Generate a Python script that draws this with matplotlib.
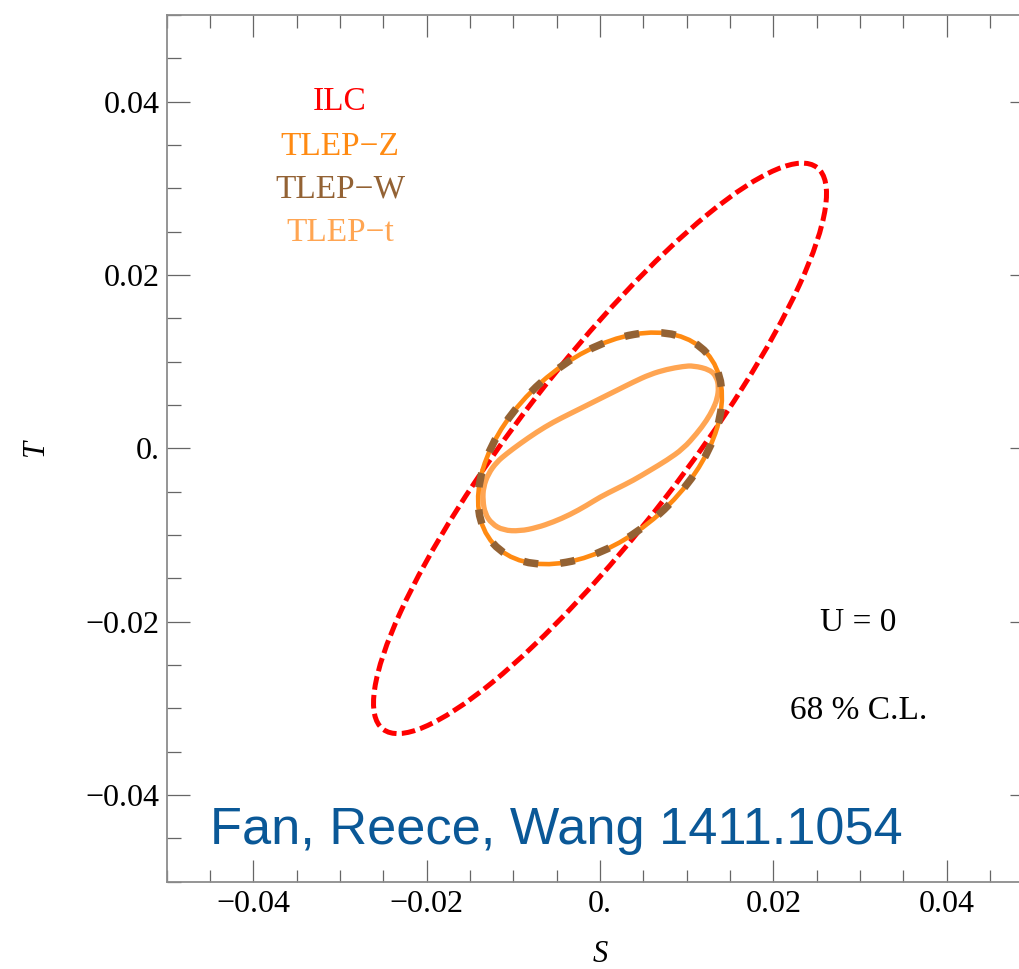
#!/usr/bin/env python
# S-T ellipses, ILC vs TLEP
import matplotlib
matplotlib.use("Agg")
import matplotlib.pyplot as plt
import matplotlib.patches as patches
from matplotlib.path import Path
from matplotlib.ticker import MultipleLocator, FixedLocator, FixedFormatter
import numpy as np

plt.rcParams['font.family'] = ['Liberation Serif', 'DejaVu Serif']
plt.rcParams['lines.scale_dashes'] = False

# ellipse contours (centre S, centre T, full width, full height, angle deg)
ilc_ell = [0.0, 0.0, 0.0819, 0.0189, 52.3]
tlepz_ell = [0.0, 0.0, 0.0330, 0.0204, 41.7]

# TLEP-t contour, units of 1e-3
tlept_S = [13.53, 13.70, 13.46, 12.69, 10.77, 9.61, 7.70, 5.77, 3.84, 1.93, 0.00,
           -1.53, -3.46, -5.39, -7.30, -9.23, -10.77, -11.92, -12.89, -13.46, -13.53,
           -13.27, -12.50, -11.16, -9.23, -7.30, -5.39, -3.46, -1.53, 0.00, 1.93,
           3.84, 5.77, 7.70, 9.61, 11.16, 12.31, 13.07]
tlept_T = [5.73, 7.07, 8.23, 9.08, 9.54, 9.46, 9.12, 8.54, 7.65, 6.69, 5.73,
           4.96, 4.00, 3.03, 1.88, 0.54, -0.61, -1.58, -2.92, -4.47, -6.00,
           -7.53, -8.69, -9.46, -9.54, -9.15, -8.50, -7.65, -6.58, -5.62, -4.65,
           -3.69, -2.54, -1.38, -0.03, 1.70, 3.23, 4.58]

names = ['ILC', 'TLEP\u2212Z', 'TLEP\u2212W', 'TLEP\u2212t']
colors = ['#ff0000', '#ff8a12', '#936234', '#ffa552']

major_ticks = [-0.04, -0.02, 0.0, 0.02, 0.04]
tick_labels = ['\u22120.04', '\u22120.02', '0.', '0.02', '0.04']


def smooth_closed(xs, ys):
    # quadratic bezier through midpoints, traced points used as control points
    pts = np.column_stack([xs, ys]) * 1e-3
    n = len(pts)
    mids = (pts + np.roll(pts, -1, axis=0)) / 2
    verts = [mids[-1]]
    codes = [Path.MOVETO]
    for i in range(n):
        verts += [pts[i], mids[i]]
        codes += [Path.CURVE3, Path.CURVE3]
    return Path(verts, codes)


fig = plt.figure(figsize=(10.2, 9.69), dpi=100)
ax = fig.add_axes([0.1634, 0.0901, 0.8497, 0.8944])

ax.add_patch(patches.Ellipse((ilc_ell[0], ilc_ell[1]), ilc_ell[2], ilc_ell[3], angle=ilc_ell[4],
                             fill=False, ec=colors[0], lw=3.6, linestyle=(0, (9.8, 3.8)), zorder=3))
ax.add_patch(patches.PathPatch(smooth_closed(tlept_S, tlept_T), fill=False, ec=colors[3], lw=3.8,
                               joinstyle='round', zorder=4))
ax.add_patch(patches.Ellipse((tlepz_ell[0], tlepz_ell[1]), tlepz_ell[2], tlepz_ell[3], angle=tlepz_ell[4],
                             fill=False, ec=colors[1], lw=3.3, zorder=5))
ax.add_patch(patches.Ellipse((tlepz_ell[0], tlepz_ell[1]), tlepz_ell[2], tlepz_ell[3], angle=tlepz_ell[4],
                             fill=False, ec=colors[2], lw=5.4, linestyle=(0, (10.5, 16)), zorder=6))

# legend as coloured text
leg_T = [0.0390, 0.0339, 0.0290, 0.0239]
for i in range(4):
    ax.text(-0.0300, leg_T[i], names[i], color=colors[i], fontsize=24, ha='center', va='baseline')

ax.text(0.0298, -0.0211, 'U = 0', fontsize=24, ha='center', va='baseline')
ax.text(0.0298, -0.0312, '68 % C.L.', fontsize=24, ha='center', va='baseline')
ax.text(-0.0450, -0.0457, 'Fan, Reece, Wang 1411.1054', fontsize=37.7, color='#0a5897',
        family=['Liberation Sans', 'DejaVu Sans'], ha='left', va='baseline')

ax.set_xlim(-0.05, 0.05)
ax.set_ylim(-0.05, 0.05)
for a in (ax.xaxis, ax.yaxis):
    a.set_major_locator(FixedLocator(major_ticks))
    a.set_major_formatter(FixedFormatter(tick_labels))
    a.set_minor_locator(MultipleLocator(0.005))
ax.tick_params(which='both', direction='in', top=True, right=True, color='#666666', width=0.9,
               labelsize=23)
ax.tick_params(axis='x', which='major', length=15.5, pad=6)
ax.tick_params(axis='x', which='minor', length=9)
ax.tick_params(axis='y', which='major', length=16.3, pad=5)
ax.tick_params(axis='y', which='minor', length=10.3)
for sp in ax.spines.values():
    sp.set_color('#8c8c8c')
    sp.set_linewidth(1.3)

fig.text(600 / 1020, 1 - 962 / 969, 'S', fontsize=22, style='italic', ha='center', va='baseline')
fig.text(36 / 1020, 1 - 448 / 969, 'T', fontsize=22, style='italic', ha='center', va='center', rotation=90)

fig.savefig('out.png', dpi=100)
